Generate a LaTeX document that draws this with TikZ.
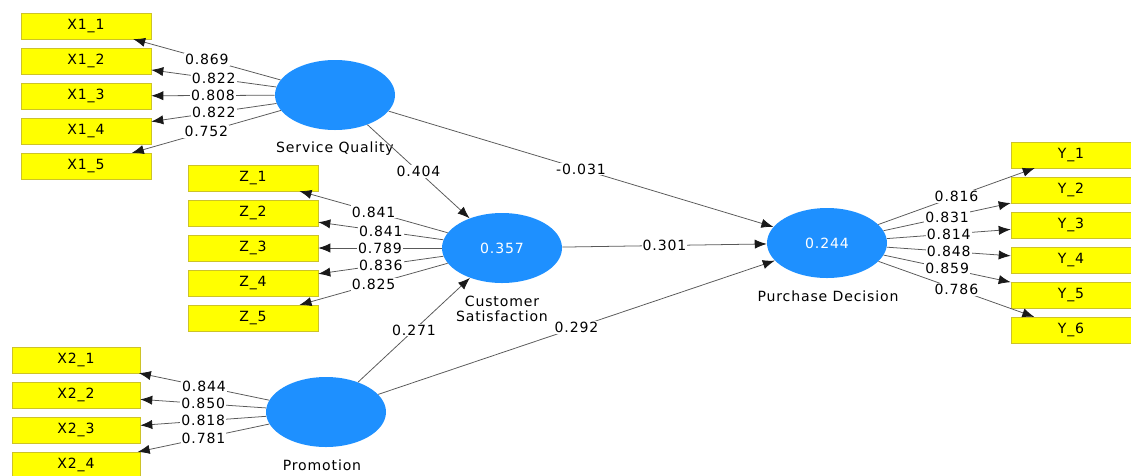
\documentclass[tikz,border=0pt]{standalone}
\usepackage{fontspec}
\setmainfont[LetterSpace=6]{DejaVu Sans}
\usetikzlibrary{shapes.geometric,arrows.meta}
\definecolor{indyellow}{RGB}{255,255,0}
\definecolor{indborder}{RGB}{205,195,40}
\definecolor{latblue}{RGB}{30,144,255}
\tikzset{
  ind/.style={draw=indborder, fill=indyellow, minimum width=32.5mm, minimum height=6.4mm, inner sep=0pt},
  lat/.style={ellipse, fill=latblue, text=white, minimum width=30mm, minimum height=17.5mm, inner sep=0pt},
  link/.style={draw=black!65, line width=0.55pt, -{Latex[length=3mm,width=2.3mm,color=black!90]}},
  coef/.style={midway, fill=white, inner sep=0.8pt}
}
\begin{document}
\begin{tikzpicture}[x=0.25mm, y=-0.25mm, font=\fontsize{10}{10.5}\selectfont]
        \useasboundingbox (0,0) rectangle (1131,475);
        \node[lat] (SQ) at (335,95) {};
        \node[lat] (CS) at (502,248) {0.357};
        \node[lat] (PD) at (827,243) {0.244};
        \node[lat] (PR) at (326,412) {};
        \node (SQname) at (335,149) {Service Quality};
        \node[align=center] (CSname) at (502,309) {Customer\\Satisfaction};
        \node (PDname) at (828,296) {Purchase Decision};
        \node (PRname) at (322,465) {Promotion};
        % outer loadings
        \foreach \i/\y/\v in {1/26/0.869, 2/61/0.822, 3/96/0.808, 4/131/0.822, 5/166/0.752}{
            \node[ind] (X1-\i) at (86,\y) {X1\_\i};
            \draw[link] (SQ) -- node[coef]{\v} (X1-\i);
        }
        \foreach \i/\y/\v in {1/178/0.841, 2/213/0.841, 3/248/0.789, 4/283/0.836, 5/318/0.825}{
            \node[ind] (Z-\i) at (253,\y) {Z\_\i};
            \draw[link] (CS) -- node[coef]{\v} (Z-\i);
        }
        \foreach \i/\y/\v in {1/360/0.844, 2/395/0.850, 3/430/0.818, 4/465/0.781}{
            \node[ind, minimum width=32mm] (X2-\i) at (76,\y) {X2\_\i};
            \draw[link] (PR) -- node[coef]{\v} (X2-\i);
        }
        \foreach \i/\y/\v in {1/155/0.816, 2/190/0.831, 3/225/0.814, 4/260/0.848, 5/295/0.859, 6/330/0.786}{
            \node[ind, minimum width=30mm] (Y-\i) at (1071,\y) {Y\_\i};
            \draw[link] (PD) -- node[coef]{\v} (Y-\i);
        }
        % inner model
        \draw[link] (SQ) -- node[coef]{0.404} (CS);
        \draw[link] (SQ) -- node[coef]{-0.031} (PD);
        \draw[link] (CS) -- node[coef]{0.301} (PD);
        \draw[link] (PR) -- node[coef]{0.271} (CS);
        \draw[link] (PR) -- node[coef]{0.292} (PD);
    \end{tikzpicture}
\end{document}
